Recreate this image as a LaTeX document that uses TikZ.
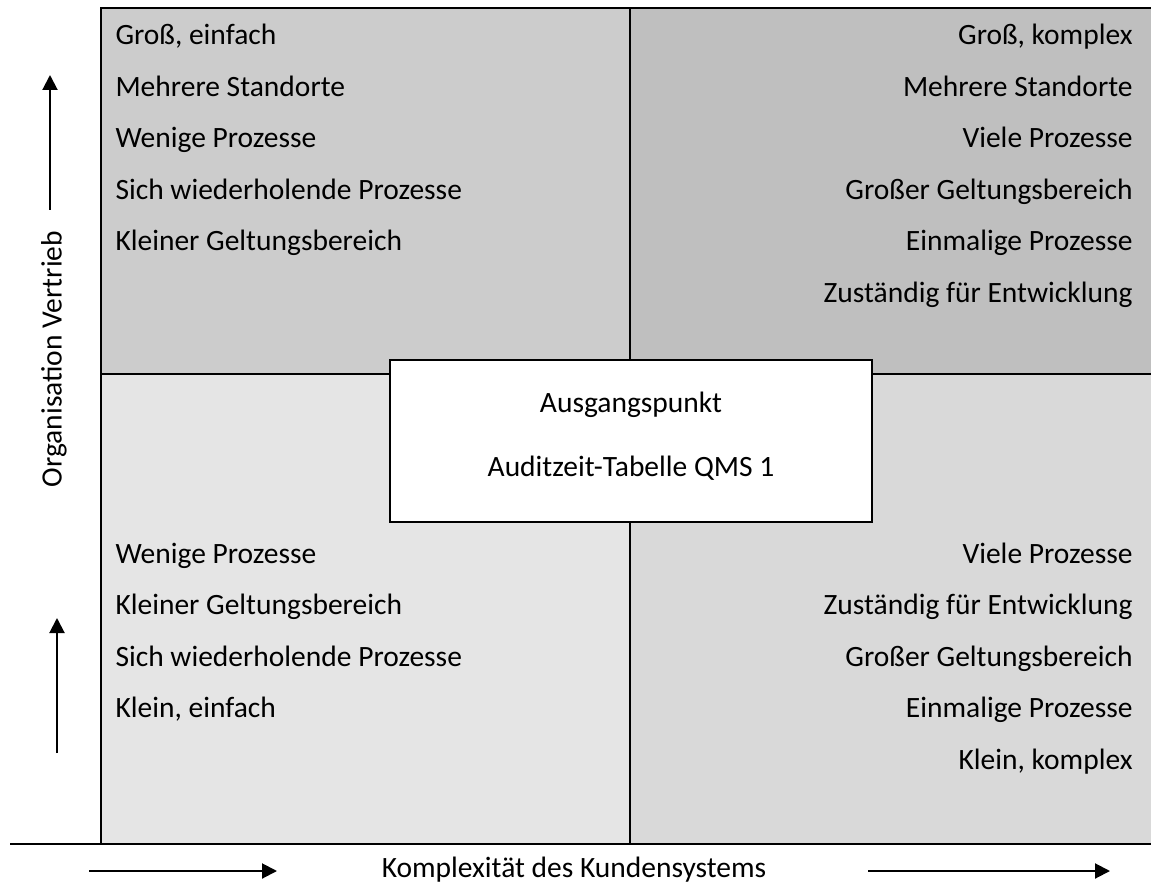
\documentclass[tikz,border=0pt]{standalone}
\usepackage{fontspec}
\setmainfont{Carlito}
\usetikzlibrary{positioning,arrows.meta}

\begin{document}
\begin{tikzpicture}[x=0.4pt, y=-0.4pt,
    every node/.style={font=\fontsize{11.8}{14}\selectfont, inner sep=0pt},
    lefttext/.style={anchor=base west},
    righttext/.style={anchor=base east},
    border/.style={line width=1.1pt},
    arr/.style={line width=0.8pt, -{Triangle[length=6pt,width=6pt]}}]
            \useasboundingbox (0,0) rectangle (1151,884);

            % quadrants
            \fill[black!20] (101,8) rectangle (630,374);
            \fill[black!25] (630,8) rectangle (1151,374);
            \fill[black!10] (101,374) rectangle (630,844);
            \fill[black!15] (630,374) rectangle (1151,844);

            \draw[border] (1151,8) -- (101,8) -- (101,844);
            \draw[border] (10,844) -- (1151,844);
            \draw[border] (630,8) -- (630,844);
            \draw[border] (101,374) -- (1151,374);

            % texts
            \foreach \t [count=\i] in {{Groß, einfach}, Mehrere Standorte, Wenige Prozesse, Sich wiederholende Prozesse, Kleiner Geltungsbereich}
                \node[lefttext] (tl\i) at (115,{45+51.5*(\i-1)}) {\t};
            \foreach \t [count=\i] in {{Groß, komplex}, Mehrere Standorte, Viele Prozesse, Großer Geltungsbereich, Einmalige Prozesse, Zuständig für Entwicklung}
                \node[righttext] (tr\i) at (1133,{45+51.5*(\i-1)}) {\t};
            \foreach \t [count=\i] in {Wenige Prozesse, Kleiner Geltungsbereich, Sich wiederholende Prozesse, {Klein, einfach}}
                \node[lefttext] (bl\i) at (115,{563+51.5*(\i-1)}) {\t};
            \foreach \t [count=\i] in {Viele Prozesse, Zuständig für Entwicklung, Großer Geltungsbereich, Einmalige Prozesse, {Klein, komplex}}
                \node[righttext] (br\i) at (1133,{563+51.5*(\i-1)}) {\t};

            % center box
            \node[draw, fill=white, line width=0.8pt, minimum width=482*0.4pt, minimum height=162*0.4pt] (start) at (631,441) {};
            \node[anchor=base] (start1) at (631,413) {Ausgangspunkt};
            \node[anchor=base] (start2) at (631,477) {Auditzeit-Tabelle QMS 1};

            % axes
            \coordinate (up1a) at (50,210);
            \coordinate (up1b) at (50,75);
            \coordinate (up2a) at (57,753);
            \coordinate (up2b) at (57,618);
            \coordinate (rt1a) at (89,871);
            \coordinate (rt1b) at (277,871);
            \coordinate (rt2a) at (868,871);
            \coordinate (rt2b) at (1110,871);
            \draw[arr] (up1a) -- (up1b);
            \draw[arr] (up2a) -- (up2b);
            \draw[arr] (rt1a) -- (rt1b);
            \draw[arr] (rt2a) -- (rt2b);

            \node[rotate=90] (yaxis) at (54,359) {Organisation Vertrieb};
            \node[anchor=base] (xaxis) at (574,877) {Komplexität des Kundensystems};
        \end{tikzpicture}
\end{document}
